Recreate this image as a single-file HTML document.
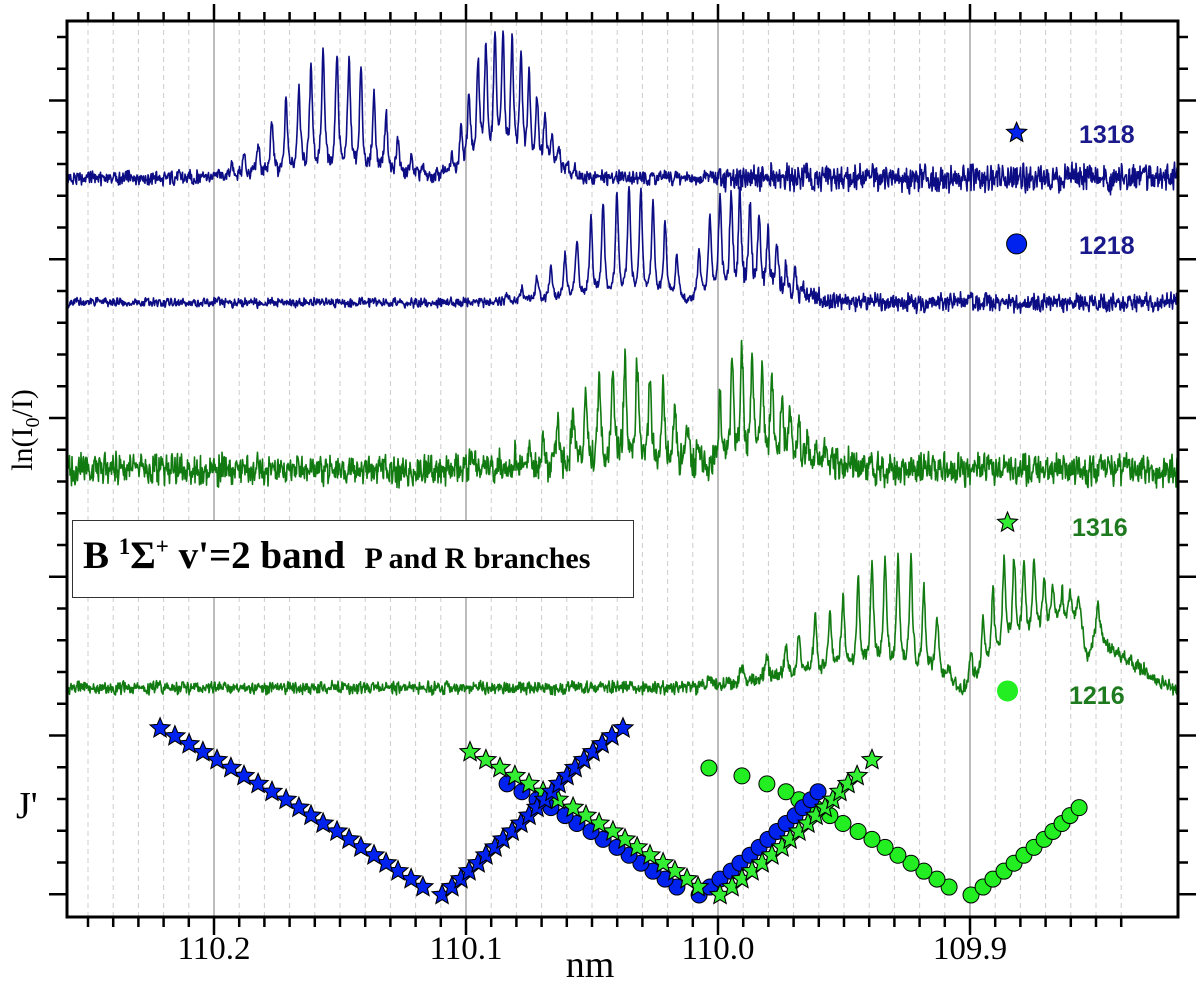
<!DOCTYPE html>
<html><head><meta charset="utf-8"><style>
body{margin:0;background:#fff;}
#wrap{position:relative;width:1200px;height:983px;overflow:hidden;background:#fff;}
svg{position:absolute;left:0;top:0;}
.lab{font-family:"Liberation Serif",serif;fill:#000;}
.leg{font-family:"Liberation Sans",sans-serif;font-weight:bold;font-size:25px;}
#box{position:absolute;left:72px;top:520px;width:560px;height:76px;border:1.5px solid #333;background:#fff;font-family:"Liberation Serif",serif;font-weight:bold;color:#000;}
</style></head><body>
<div id="wrap">
<svg id="svg" width="1200" height="983" viewBox="0 0 1200 983">
<g id="grid"></g>
<g id="traces"></g>
<g id="marks"></g>
<g id="axes"></g>
<g id="legend">
 <text class="leg" x="1079" y="143" fill="#1a1a8c">1318</text>
 <text class="leg" x="1079" y="254" fill="#1a1a8c">1218</text>
 <text class="leg" x="1072" y="536" fill="#1e7a1e">1316</text>
 <text class="leg" x="1069" y="704" fill="#1e7a1e">1216</text>
</g>
<text class="lab" x="590" y="977" font-size="38" text-anchor="middle">nm</text>
<text class="lab" transform="translate(32,430) rotate(-90)" font-size="30" text-anchor="middle">ln(I<tspan font-size="20" dy="7">0</tspan><tspan dy="-7">/I)</tspan></text>
<text class="lab" x="16" y="818" font-size="38">J'</text>
</svg>
<div id="box"><span style="position:absolute;left:10px;top:12px;font-size:39px;white-space:nowrap;">B <sup style="font-size:23px;">1</sup>Σ<sup style="font-size:23px;">+</sup> v'=2 band&nbsp; <span style="font-size:30px;">P and R branches</span></span></div>
</div>
<script>
// ---------- data ----------
const xTickLabels = ["110.2","110.1","110.0","109.9"];
const xTickValues = [110.2,110.1,110.0,109.9];
// 1318 (blue stars)
const s1318P_lam = [110.1171,110.1218,110.1270,110.1317,110.1365,110.1417,110.1464,110.1512,110.1567,110.1615,110.1663,110.1714,110.1770,110.1825,110.1881,110.1933,110.1988,110.2044,110.2099,110.2155,110.2214];
const s1318P_J = [1,2,3,4,5,6,7,8,9,10,11,12,13,14,15,16,17,18,19,20,21];
const s1318P_h = [1.3,2.8,4.5,7.8,9.9,12.8,14.1,15.2,15.0,13.9,10.7,9.2,6.9,4.3,2.6,1.5,0.6,0.4,0,0,0];
const s1318R_lam = [110.1095,110.1056,110.1020,110.0988,110.0952,110.0921,110.0885,110.0853,110.0817,110.0782,110.0750,110.0718,110.0687,110.0659,110.0631,110.0599,110.0567,110.0532,110.0496,110.0460,110.0421,110.0377];
const s1318R_J = [0,1,2,3,4,5,6,7,8,9,10,11,12,13,14,15,16,17,18,19,20,21];
const s1318R_h = [0.6,2.5,5.7,10.1,13.2,15.7,16.8,17.0,16.1,14.5,12.0,9.4,6.9,4.8,3.1,1.9,1.0,0,0,0,0,0];
// 1218 (blue circles)
const s1218P_lam = [110.0163,110.0210,110.0258,110.0306,110.0353,110.0401,110.0456,110.0504,110.0560,110.0607,110.0663,110.0718,110.0778,110.0837];
const s1218P_J = [1,2,3,4,5,6,7,8,9,10,11,12,13,14];
const s1218P_h = [5.7,9.4,12.0,13.6,13.9,13.2,12.0,10.1,7.8,6.0,4.4,3.1,1.9,1.0];
const s1218R_lam = [110.0075,110.0032,109.9992,109.9948,109.9913,109.9873,109.9837,109.9802,109.9766,109.9730,109.9694,109.9663,109.9631,109.9603];
const s1218R_J = [0,1,2,3,4,5,6,7,8,9,10,11,12,13];
const s1218R_h = [6.3,10.1,12.6,13.4,13.1,12.0,10.3,8.6,6.5,4.8,3.3,2.0,1.1,0.6];
// 1316 (green stars)
const s1316P_lam = [110.0079,110.0123,110.0171,110.0218,110.0270,110.0321,110.0369,110.0417,110.0472,110.0524,110.0575,110.0635,110.0694,110.0750,110.0806,110.0865,110.0921,110.0984];
const s1316P_J = [1,2,3,4,5,6,7,8,9,10,11,12,13,14,15,16,17,18];
const s1316P_h = [2.5,5.0,7.6,10.1,12.0,13.2,13.5,12.6,11.3,9.4,7.6,5.7,3.8,2.5,1.5,0.8,0.4,0.3];
const s1316R_lam = [109.9992,109.9944,109.9905,109.9865,109.9825,109.9786,109.9746,109.9714,109.9679,109.9643,109.9611,109.9575,109.9544,109.9516,109.9484,109.9448,109.9389];
const s1316R_J = [0,1,2,3,4,5,6,7,8,9,10,11,12,13,14,15,17];
const s1316R_h = [8.8,12.6,14.7,14.1,12.6,10.7,8.8,6.9,5.0,3.8,2.5,1.8,1.1,0.8,0.5,0.4,0.1];
// 1216 (green circles)
const s1216P_lam = [109.9083,109.9131,109.9183,109.9234,109.9286,109.9337,109.9389,109.9444,109.9504,109.9556,109.9615,109.9679,109.9730,109.9806,109.9905,110.0036];
const s1216P_J = [1,2,3,4,5,6,7,8,9,10,11,12,13,14,15,16];
const s1216P_h = [1.9,7.6,11.0,14.2,14.2,13.9,13.1,11.1,8.8,7.3,7.1,5.3,4.2,3.1,1.9,1.0];
const s1216R_lam = [109.8996,109.8948,109.8909,109.8865,109.8825,109.8786,109.8746,109.8706,109.8671,109.8635,109.8603,109.8567];
const s1216R_J = [0,1,2,3,4,5,6,7,8,9,10,11];
const s1216R_h = [3.5,6.9,9.4,12.0,11.3,10.1,9.4,6.9,5.0,3.8,3.1,2.3];
const s1216Extra_lam = [109.8492];
const s1216Extra_h = [5.0];
const s1216Base_lam = [110.2583,110.0071,109.9833,109.9437,109.9119,109.9032,109.8980,109.8881,109.8762,109.8643,109.8563,109.8536,109.8512,109.8484,109.8444,109.8325,109.8175];
const s1216Base_v = [0,0,1.0,2.3,1.3,-0.6,0.6,3.5,5.7,7.8,8.6,3.1,5.7,6.3,4.8,2.5,-0.6];
// trace vertical offsets (ln(I0/I) axis, same units as J')
const offsets = {s1318:90.3, s1218:74.6, s1316:53.6, s1216:26.1};
const legendMarkers = [
 {name:"1318", lam:109.8815, v:96.0, shape:"star", fill:"#0022ee"},
 {name:"1218", lam:109.8815, v:82.0, shape:"circle", fill:"#0022ee"},
 {name:"1316", lam:109.8851, v:46.9, shape:"star", fill:"#33ee33"},
 {name:"1216", lam:109.8851, v:25.7, shape:"circle", fill:"#22ee22"}
];

// ---------- scales ----------
const L=67,R=1178,T=21,B=917;
function xS(l){return 214+(110.2-l)*2520;}
function xInv(x){return 110.2-(x-214)/2520;}
function yS(v){return 895-v*7.94;}
const NS="http://www.w3.org/2000/svg";
function el(tag,attrs,parent){const e=document.createElementNS(NS,tag);for(const k in attrs)e.setAttribute(k,attrs[k]);parent.appendChild(e);return e;}

// ---------- grid & axes ----------
const grid=document.getElementById('grid'), axes=document.getElementById('axes');
for(let i=-6;i<=36;i++){
  const lam=110.2-i*0.01; const x=xS(lam);
  if(x<L+1||x>R-1) continue;
  const major=(Math.abs(i%10)===0);
  const g=el('line',{x1:x,x2:x,y1:T,y2:B,stroke:major?'#999':'#ccc','stroke-width':major?1.3:1,'stroke-dasharray':major?'':'5,4'},grid);
  
  
  const t1=el('line',{x1:x,x2:x,y1:B,y2:B+(major?18:10),stroke:'#000','stroke-width':2.5},axes);
  
  
  const t2=el('line',{x1:x,x2:x,y1:T,y2:T-(major?17:9),stroke:'#000','stroke-width':2.5},axes);
  
  
}
xTickValues.forEach((v,i)=>{
  const t=el('text',{x:xS(v),y:959,'font-size':33,'text-anchor':'middle',class:'lab'},axes);
  t.textContent=xTickLabels[i];
  
  
});
for(let k=0;k<=27;k++){
  const y=37+k*31.75; const major=(k%5===2);
  const a=el('line',{x1:L,x2:L-(major?18:10),y1:y,y2:y,stroke:'#000','stroke-width':2.5},axes);
  
  
  const b=el('line',{x1:R,x2:R+(major?18:10),y1:y,y2:y,stroke:'#000','stroke-width':2.5},axes);
  
  
}
const frame=el('rect',{x:L,y:T,width:R-L,height:B-T,fill:'none',stroke:'#000','stroke-width':3},axes);



// ---------- spectra ----------
function hash(i,s){const v=Math.sin(i*12.9898+s*78.233)*43758.5453;return v-Math.floor(v)-0.5;}
function interp(xs,ys,x){ // xs descending lambda
  if(x>=xs[0])return ys[0];
  for(let i=1;i<xs.length;i++){ if(x>=xs[i]){const t=(xs[i-1]-x)/(xs[i-1]-xs[i]);return ys[i-1]+t*(ys[i]-ys[i-1]);} }
  return ys[ys.length-1];
}
function trace(name,off,lines,color,noiseL,noiseR,seed,baseFn){
  const w=0.0007; let d='';
  for(let px=L+1,i=0;px<=R-1;px+=0.5,i++){
    const lam=xInv(px); let v=off+(baseFn?baseFn(lam):0);
    for(const ln of lines){ for(let j=0;j<ln.lam.length;j++){ const dd=(lam-ln.lam[j])/w; v+=ln.h[j]/(1+dd*dd);} }
    const na=lam>110.0?noiseL:noiseR;
    v+=na*(hash(i,seed)*1.3+hash(i*0.5|0,seed+3)*1.1);
    d+=(i?'L':'M')+px.toFixed(1)+' '+yS(v).toFixed(1);
  }
  const p=el('path',{d:d,fill:'none',stroke:color,'stroke-width':1.6,'stroke-linejoin':'round'},document.getElementById('traces'));
  
  
}
trace('1318',offsets.s1318,[{lam:s1318P_lam,h:s1318P_h},{lam:s1318R_lam,h:s1318R_h}],'#0c0c84',0.9,1.8,1);
trace('1218',offsets.s1218,[{lam:s1218P_lam,h:s1218P_h},{lam:s1218R_lam,h:s1218R_h}],'#0c0c84',0.6,1.2,2);
trace('1316',offsets.s1316,[{lam:s1316P_lam,h:s1316P_h},{lam:s1316R_lam,h:s1316R_h}],'#117a11',2.0,2.0,3);
trace('1216',offsets.s1216,[{lam:s1216P_lam,h:s1216P_h},{lam:s1216R_lam,h:s1216R_h},{lam:s1216Extra_lam,h:s1216Extra_h}],'#117a11',0.8,0.9,4,l=>interp(s1216Base_lam,s1216Base_v,l));

// ---------- markers ----------
const marks=document.getElementById('marks');
function starPath(cx,cy,r){let d='';for(let k=0;k<10;k++){const rr=k%2?r*0.45:r;const a=-Math.PI/2+k*Math.PI/5;d+=(k?'L':'M')+(cx+rr*Math.cos(a)).toFixed(1)+' '+(cy+rr*Math.sin(a)).toFixed(1);}return d+'Z';}
function drawSeries(lams,Js,shape,fill,name,parent){
  lams.forEach((l,i)=>{
    const x=xS(l), y=yS(Js[i]); let e;
    if(shape==='star') e=el('path',{d:starPath(x,y,10.5),fill:fill,stroke:'#000','stroke-width':1.1},parent);
    else e=el('circle',{cx:x,cy:y,r:8,fill:fill,stroke:'#000','stroke-width':1},parent);
    
    
  });
}
drawSeries(s1216P_lam,s1216P_J,'circle','#22ee22','marker-1216-p',marks);
drawSeries(s1216R_lam,s1216R_J,'circle','#22ee22','marker-1216-r',marks);
drawSeries(s1218P_lam,s1218P_J,'circle','#0022ee','marker-1218-p',marks);
drawSeries(s1218R_lam,s1218R_J,'circle','#0022ee','marker-1218-r',marks);
drawSeries(s1316P_lam,s1316P_J,'star','#33ee33','marker-1316-p',marks);
drawSeries(s1316R_lam,s1316R_J,'star','#33ee33','marker-1316-r',marks);
drawSeries(s1318P_lam,s1318P_J,'star','#0022ee','marker-1318-p',marks);
drawSeries(s1318R_lam,s1318R_J,'star','#0022ee','marker-1318-r',marks);
const leg=document.getElementById('legend');
legendMarkers.forEach(m=>{
  const x=xS(m.lam), y=yS(m.v); let e;
  if(m.shape==='star') e=el('path',{d:starPath(x,y,10.5),fill:m.fill,stroke:'#000','stroke-width':1.1},leg);
  else e=el('circle',{cx:x,cy:y,r:10,fill:m.fill,stroke:m.name==='1216'?'#22ee22':'#000','stroke-width':1},leg);
  
  
});
</script>
</body></html>
